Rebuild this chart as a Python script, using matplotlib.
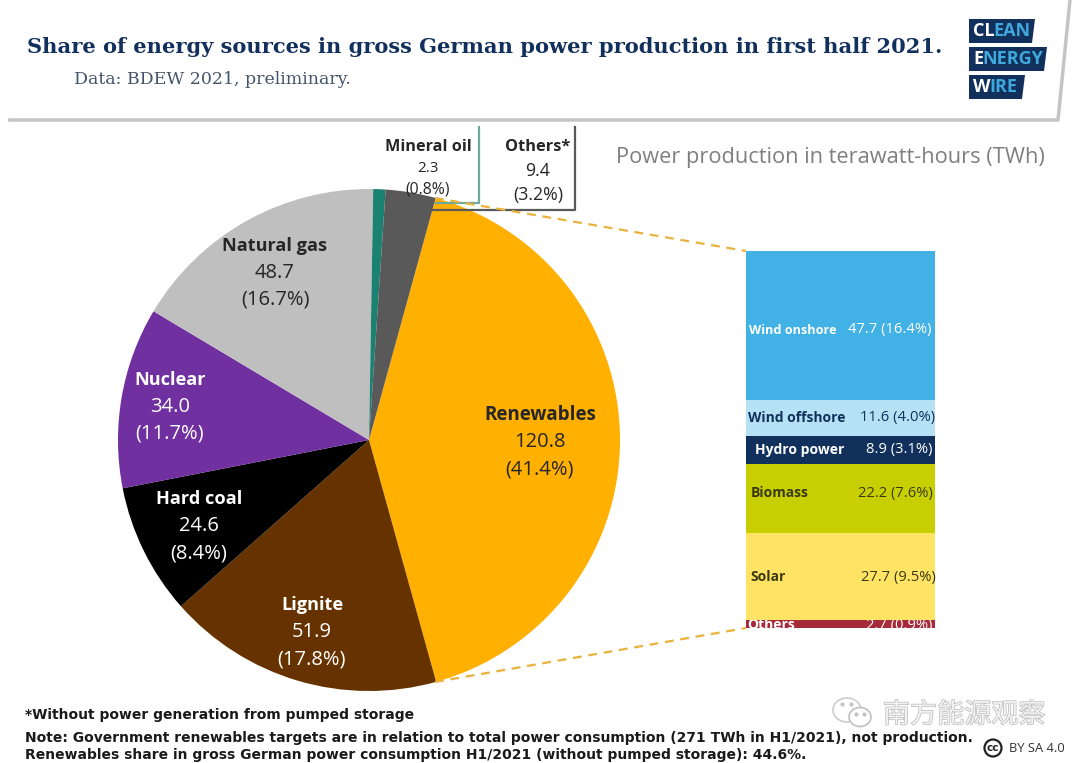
import matplotlib
matplotlib.use("Agg")
import matplotlib.pyplot as plt
import matplotlib.patheffects as pe
from matplotlib.patches import Ellipse, Polygon, Rectangle

# pie data, clockwise from renewables
sources = ["Renewables", "Lignite", "Hard coal", "Nuclear", "Natural gas", "Mineral oil", "Others*"]
twh = [120.8, 51.9, 24.6, 34.0, 48.7, 2.3, 9.4]
shares = ["41.4%", "17.8%", "8.4%", "11.7%", "16.7%", "0.8%", "3.2%"]
pie_colors = ["#FFB000", "#663300", "#000000", "#7030A0", "#BFBFBF", "#1B8272", "#595959"]

# renewables breakdown, top to bottom
ren_names = ["Wind onshore", "Wind offshore", "Hydro power", "Biomass", "Solar", "Others"]
ren_twh = [47.7, 11.6, 8.9, 22.2, 27.7, 2.7]
ren_shares = ["16.4%", "4.0%", "3.1%", "7.6%", "9.5%", "0.9%"]
ren_colors = ["#41B1E6", "#B5E1F4", "#12305C", "#C8CF00", "#FFE364", "#A52A3A"]
ren_text = ["white", "#12305C", "white", "#3A3A10", "#3A3A10", "white"]

NAVY = "#12305C"
LABEL_FONT = "Open Sans"
DARK = "#262626"

fig = plt.figure(figsize=(10.8, 7.63), dpi=100)
ax = fig.add_axes([0, 0, 1, 1])

# pixel coordinates, y pointing down (so counterclock shows as clockwise)
ax.pie(twh, colors=pie_colors, center=(369, 440), radius=251, startangle=-74.6,
       counterclock=True, wedgeprops={"linewidth": 0})
ax.set_xlim(0, 1080)
ax.set_ylim(763, 0)
ax.set_aspect("auto")
ax.axis("off")

# header
ax.plot([10, 1058, 1070], [120, 120, 0], color="#C4C4C4", lw=2.5, zorder=1)
ax.text(27, 47, "Share of energy sources in gross German power production in first half 2021.",
        family="DejaVu Serif", weight="bold", fontsize=15.1, color=NAVY, va="center")
ax.text(74, 79, "Data: BDEW 2021, preliminary.", family="DejaVu Serif", fontsize=12.5,
        color="#44546A", va="center")

# logo
logo_rows = [(19, 43, 1035, [("CL", "white"), ("EAN", "#3FA9DC")]),
             (47, 71, 1047, [("E", "white"), ("NERGY", "#3FA9DC")]),
             (75, 99, 1025, [("W", "white"), ("IRE", "#3FA9DC")])]
for top, bottom, right, parts in logo_rows:
    ax.add_patch(Polygon([(969, top), (right, top), (right - 3, bottom), (969, bottom)],
                         color=NAVY, lw=0, zorder=2))
    x = 973
    for word, col in parts:
        t = ax.text(x, (top + bottom) / 2, word, family=LABEL_FONT, weight="bold",
                    fontsize=13, color=col, va="center", zorder=3)
        fig.canvas.draw()
        box = t.get_window_extent()
        x = box.x1 - 1

# leader lines
ax.plot([479, 479, 436], [127, 203, 203], color="#6FA89F", lw=1.6, zorder=3)
ax.plot([575, 575, 432], [127, 210, 210], color="#595959", lw=1.6, zorder=3)
ax.plot([435, 746], [198, 251], color="#E8B23C", lw=1.6, ls=(0, (4, 3)), zorder=3)
ax.plot([435, 746], [682, 628], color="#E8B23C", lw=1.6, ls=(0, (4, 3)), zorder=3)

# pie labels
label_pos = {"Renewables": (540, 442, DARK), "Lignite": (312, 632, "white"),
             "Hard coal": (199, 526, "white"), "Nuclear": (170, 407, "white"),
             "Natural gas": (275, 273, DARK)}
for name, value, share in zip(sources, twh, shares):
    if name in label_pos:
        x, y, col = label_pos[name]
        name_size = 13.5 if name == "Renewables" else 13.1
        ax.text(x, y - 27, name, family=LABEL_FONT, weight="bold", fontsize=name_size, color=col,
                ha="center", va="center", zorder=4)
        ax.text(x, y, f"{value:.1f}", family=LABEL_FONT, fontsize=14.5, color=col,
                ha="center", va="center", zorder=4)
        ax.text(x, y + 27, f"({share})", family=LABEL_FONT, fontsize=14.5, color=col,
                ha="center", va="center", zorder=4)

ax.text(428, 147, sources[5], family=LABEL_FONT, weight="bold", fontsize=11.7, color=DARK,
        ha="center", va="center", zorder=4)
ax.text(428, 169, f"{twh[5]:.1f}", family=LABEL_FONT, fontsize=11, color=DARK,
        ha="center", va="center", zorder=4)
ax.text(428, 189, f"({shares[5]})", family=LABEL_FONT, fontsize=11.3, color=DARK,
        ha="center", va="center", zorder=4)
ax.text(538, 147, sources[6], family=LABEL_FONT, weight="bold", fontsize=11.8, color=DARK,
        ha="center", va="center", zorder=4)
ax.text(538, 171, f"{twh[6]:.1f}", family=LABEL_FONT, fontsize=12.8, color=DARK,
        ha="center", va="center", zorder=4)
ax.text(538, 195, f"({shares[6]})", family=LABEL_FONT, fontsize=12.8, color=DARK,
        ha="center", va="center", zorder=4)

ax.text(1045, 158, "Power production in terawatt-hours (TWh)", family=LABEL_FONT, fontsize=15.7,
        color="#7F7F7F", ha="right", va="center")

# stacked bar with the renewables, axes placed on the pixel box 746-935 / 251-628
bar_ax = fig.add_axes([746 / 1080, 1 - 628 / 763, 189 / 1080, 377 / 763])
bar_ax.set_xlim(0, 1)
bar_ax.set_ylim(sum(ren_twh), 0)
bar_ax.axis("off")
bottom = 0
for value, col in zip(ren_twh, ren_colors):
    bar_ax.bar(0.5, value, width=1, bottom=bottom, color=col, lw=0)
    bottom += value

clip_box = Rectangle((735, 620), 215, 8, transform=ax.transData)
name_x = [749, 748, 755, 751, 750, 747]
value_x = [931, 935, 932, 933, 936, 933]
name_y = [330, 418, 450, 493, 577, 625]
ren_name_size = [9.1, 10, 10, 10, 10, 10]
for i in range(len(ren_names)):
    t1 = ax.text(name_x[i], name_y[i], ren_names[i], family=LABEL_FONT, weight="bold",
                 fontsize=ren_name_size[i], color=ren_text[i], va="center", zorder=6)
    t2 = ax.text(value_x[i], name_y[i], f"{ren_twh[i]:.1f} ({ren_shares[i]})", family=LABEL_FONT,
                 fontsize=10.6, color=ren_text[i], ha="right", va="center", zorder=6)
    if ren_names[i] == "Others":
        t1.set_clip_path(clip_box)
        t2.set_clip_path(clip_box)
        t1.set_clip_on(True)
        t2.set_clip_on(True)
ax.set_zorder(2)
ax.patch.set_visible(False)

# footnotes
ax.text(25, 715, "*Without power generation from pumped storage", family="DejaVu Sans", weight="bold",
        fontsize=10, color="#1A1A1A", va="center")
ax.text(25, 738, "Note: Government renewables targets are in relation to total power consumption (271 TWh in H1/2021), not production.",
        family="DejaVu Sans", weight="bold", fontsize=10, color="#1A1A1A", va="center")
ax.text(25, 755, "Renewables share in gross German power consumption H1/2021 (without pumped storage): 44.6%.",
        family="DejaVu Sans", weight="bold", fontsize=10, color="#1A1A1A", va="center")

# licence mark
ax.add_patch(Ellipse((993, 748), 17, 17, fill=False, ec="#222222", lw=1.6))
ax.text(993, 748, "cc", family="DejaVu Sans", weight="bold", fontsize=7.5, color="#222222",
        ha="center", va="center")
ax.text(1065, 748, "BY SA 4.0", family=LABEL_FONT, fontsize=9.3, color="#333333", ha="right", va="center")

# watermark
ax.add_patch(Ellipse((847, 710), 28, 24, fc="white", ec="#D0D0D0", lw=1.3))
ax.add_patch(Ellipse((860, 717), 22, 19, fc="white", ec="#C4C4C4", lw=1.3))
ax.plot([842, 851, 856, 864], [704, 704, 714, 714], ls="none", marker="o", ms=2, color="#C4C4C4")
ax.text(883, 715, "南方能源观察", family=["Noto Sans CJK SC", "DejaVu Sans"], fontsize=19.5,
        color="#F2F2F2", va="center",
        path_effects=[pe.withStroke(linewidth=0.9, foreground="#B4B4B4")])

fig.savefig("out.png", dpi=100)
